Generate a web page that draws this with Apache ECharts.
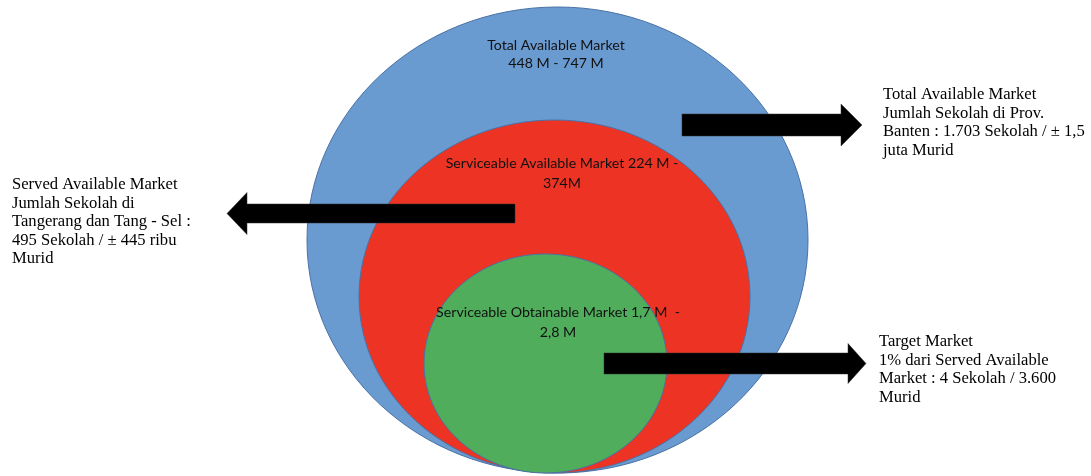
<!DOCTYPE html>
<html><head><meta charset="utf-8">
<script src="https://cdn.jsdelivr.net/npm/echarts@6/dist/echarts.min.js"></script>
<style>html,body{margin:0;padding:0;background:#fff}#c{width:1091px;height:476px}</style>
</head><body><div id="c"></div>
<script>
// Nested market ellipses: [centerX, centerY, radiusX, radiusY] in diagram units
const marketNames = ['Total Available Market', 'Serviceable Available Market', 'Serviceable Obtainable Market'];
const marketEllipses = [
  [557.5, 240, 250.5, 233],
  [554.5, 296.5, 195.5, 176.5],
  [545.5, 363.5, 121.5, 109.5]
];
const marketFills = ['#6a9bd0', '#ec3324', '#4fad5b'];
// Labels inside the ellipses: [anchorX, firstLineCenterY]
const marketLabels = [
  'Total Available Market\n448 M - 747 M',
  'Serviceable Available Market 224 M -\n374M',
  'Serviceable Obtainable Market 1,7 M  -\n2,8 M'
];
const marketLabelPos = [[556, 45], [562, 163], [558, 312]];
// Arrows: [tailX, headBaseX, tipX, centerY, bodyHalfHeight, headHalfHeight]
const arrows = [
  [682, 841, 862, 125, 11, 21],
  [515, 247, 227, 213.5, 9.5, 21],
  [604, 848, 866, 363.5, 10.5, 20]
];
// Side notes
const notes = [
  'Total Available Market\nJumlah Sekolah di Prov.\nBanten : 1.703 Sekolah / \u00b1 1,5\njuta Murid',
  'Served Available Market\nJumlah Sekolah di\nTangerang dan Tang - Sel :\n495 Sekolah / \u00b1 445 ribu\nMurid',
  'Target Market\n1% dari Served Available\nMarket : 4 Sekolah / 3.600\nMurid'
];
const notePos = [[883, 95], [12, 185], [879, 342]];

const chart = echarts.init(document.getElementById('c'), null, {renderer: 'canvas'});
chart.setOption({
  animation: false,
  backgroundColor: '#ffffff',
  grid: {left: 0, right: 0, top: 0, bottom: 0},
  xAxis: {type: 'value', min: 0, max: 1091, show: false},
  yAxis: {type: 'value', min: 0, max: 476, inverse: true, show: false},
  series: [
    {
      type: 'custom', name: 'markets', z: 1,
      data: marketEllipses,
      encode: {x: 0, y: 1},
      renderItem: (params, api) => {
        const cx = api.value(0), cy = api.value(1);
        const c = api.coord([cx, cy]);
        const s = api.size([api.value(2) * 2, api.value(3) * 2], [cx, cy]);
        return {
          type: 'ellipse',
          shape: {cx: c[0], cy: c[1], rx: s[0] / 2, ry: s[1] / 2},
          style: {fill: marketFills[params.dataIndex], stroke: '#4a72a6', lineWidth: 1}
        };
      }
    },
    {
      type: 'custom', name: 'labels', z: 2,
      data: marketLabelPos,
      encode: {x: 0, y: 1},
      renderItem: (params, api) => {
        const c = api.coord([api.value(0), api.value(1)]);
        const lh = params.dataIndex === 0 ? 18 : 20;
        return {
          type: 'text',
          x: c[0], y: c[1] - lh / 2,
          style: {
            text: marketLabels[params.dataIndex],
            font: '14.2px Lato, "Open Sans", sans-serif',
            fill: '#111111', align: 'center', verticalAlign: 'top', lineHeight: lh
          }
        };
      }
    },
    {
      type: 'custom', name: 'arrows', z: 3,
      data: arrows,
      encode: {x: 0, y: 3},
      renderItem: (params, api) => {
        const t = api.value(0), b = api.value(1), tip = api.value(2), cy = api.value(3);
        const bh = api.value(4), hh = api.value(5);
        const pts = [[t, cy - bh], [b, cy - bh], [b, cy - hh], [tip, cy], [b, cy + hh], [b, cy + bh], [t, cy + bh]]
          .map(p => api.coord(p));
        return {type: 'polygon', shape: {points: pts}, style: {fill: '#000000', stroke: '#333333', lineWidth: 0.5}};
      }
    },
    {
      type: 'custom', name: 'notes', z: 4,
      data: notePos,
      encode: {x: 0, y: 1},
      renderItem: (params, api) => {
        const c = api.coord([api.value(0), api.value(1)]);
        const lh = 18.4;
        return {
          type: 'text',
          x: c[0], y: c[1] - lh / 2,
          style: {
            text: notes[params.dataIndex],
            font: '16.6px "Liberation Serif", "DejaVu Serif", serif',
            fill: '#000000', align: 'left', verticalAlign: 'top', lineHeight: lh
          }
        };
      }
    }
  ]
});
</script>
</body></html>
